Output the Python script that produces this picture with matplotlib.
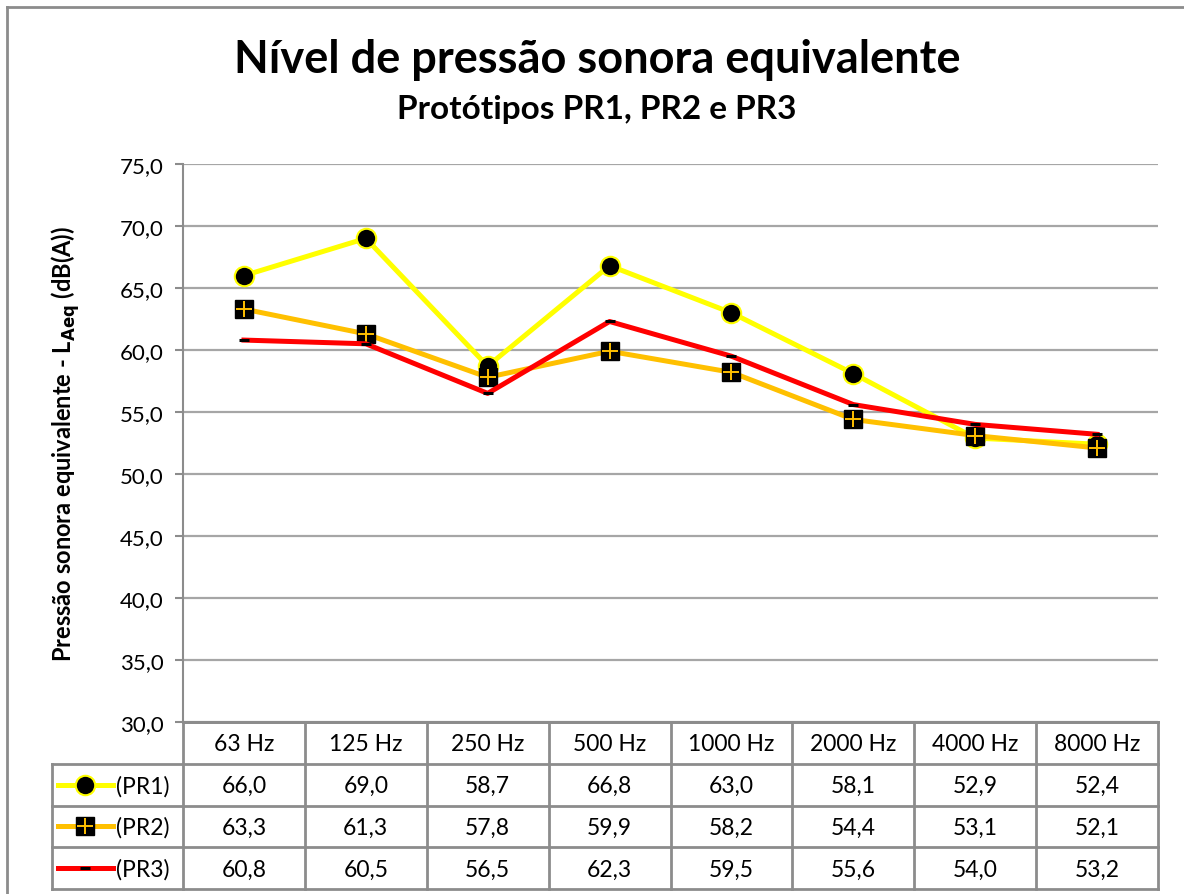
import matplotlib
matplotlib.use("Agg")
import matplotlib.pyplot as plt
from matplotlib.ticker import FuncFormatter

plt.rcParams['font.family'] = ['Lato', 'DejaVu Sans']

categories = ["63 Hz", "125 Hz", "250 Hz", "500 Hz", "1000 Hz", "2000 Hz", "4000 Hz", "8000 Hz"]
pr1 = [66.0, 69.0, 58.7, 66.8, 63.0, 58.1, 52.9, 52.4]
pr2 = [63.3, 61.3, 57.8, 59.9, 58.2, 54.4, 53.1, 52.1]
pr3 = [60.8, 60.5, 56.5, 62.3, 59.5, 55.6, 54.0, 53.2]
series_names = ["(PR1)", "(PR2)", "(PR3)"]
yticks = [30, 35, 40, 45, 50, 55, 60, 65, 70, 75]

W, H = 1184, 895
fig = plt.figure(figsize=(W / 100, H / 100), dpi=100)

def frac(x0, y0, x1, y1):
    return [x0 / W, 1 - y1 / H, (x1 - x0) / W, (y1 - y0) / H]

GRID = "#a6a6a6"
EDGE = "#8c8c8c"
YELLOW = "#ffff00"
ORANGE = "#ffc000"
RED = "#ff0000"

# outer chart border (left and top edges)
fig.add_artist(plt.Line2D([7 / W, 7 / W], [0, 1 - 8 / H], color=EDGE, lw=2, transform=fig.transFigure))
fig.add_artist(plt.Line2D([7 / W, 1], [1 - 8 / H, 1 - 8 / H], color=EDGE, lw=2, transform=fig.transFigure))

# plot area
x_left, x_right, y_top, y_bot = 183, 1158, 165, 723
ax = fig.add_axes(frac(x_left, y_top, x_right, y_bot))
xs = list(range(len(categories)))
ax.set_xlim(-0.5, len(categories) - 0.5)
ax.set_ylim(30, 75)
ax.set_yticks(yticks)
ax.yaxis.set_major_formatter(FuncFormatter(lambda v, p: f"{v:.1f}".replace(".", ",")))
ax.tick_params(axis='y', length=6, width=1.5, color=EDGE, labelsize=16, pad=8)
ax.set_xticks([])
for s in ("top", "right"):
    ax.spines[s].set_visible(False)
ax.spines["left"].set_color(EDGE)
ax.spines["left"].set_linewidth(1.5)
ax.spines["bottom"].set_color(EDGE)
ax.spines["bottom"].set_linewidth(2)
ax.grid(axis='y', color=GRID, lw=1.6)
ax.set_axisbelow(True)

def draw_pr1(a, x, y, lw=3.6, **kw):
    a.plot(x, y, color=YELLOW, lw=lw, marker='o', ms=14, mfc='black', mec=YELLOW, mew=1.5,
           solid_joinstyle='round', clip_on=False, zorder=3, **kw)

def draw_pr2(a, x, y, mx, my, lw=3.6):
    a.plot(x, y, color=ORANGE, lw=lw, solid_joinstyle='round', clip_on=False, zorder=4)
    a.plot(mx, my, ls='none', marker='s', ms=12.5, mfc='black', mec='black', clip_on=False, zorder=4)
    a.plot(mx, my, ls='none', marker='+', ms=12, mec=ORANGE, mew=1.4, clip_on=False, zorder=4)

def draw_pr3(a, x, y, mx, my, lw=3.6):
    a.plot(x, y, color=RED, lw=lw, solid_joinstyle='round', clip_on=False, zorder=5)
    a.plot(mx, my, ls='none', marker='_', ms=7, mec='black', mew=2.2, clip_on=False, zorder=5)

draw_pr1(ax, xs, pr1)
draw_pr2(ax, xs, pr2, xs, pr2)
draw_pr3(ax, xs, pr3, xs, pr3)

ax.set_ylabel(r"Pressão sonora equivalente - L$_{\mathbf{Aeq}}$ (dB(A))", fontsize=17, fontweight='bold')
ax.yaxis.set_label_coords(-0.104, 0.5)

# titles
fig.text(597 / W, 1 - 60 / H, "Nível de pressão sonora equivalente", ha='center', va='center',
         fontsize=32.5, fontweight='bold')
fig.text(597 / W, 1 - 110 / H, "Protótipos PR1, PR2 e PR3", ha='center', va='center',
         fontsize=24, fontweight='bold')

# data table below the plot area
t_left, t_bot = 52, 890
tax = fig.add_axes(frac(t_left, y_bot, x_right, t_bot))
cat_w = (x_right - x_left) / len(categories)
x_min = -0.5 - (x_left - t_left) / cat_w
tax.set_xlim(x_min, len(categories) - 0.5)
tax.set_ylim(4, 0)
tax.axis('off')

n = len(categories)
# horizontal rules
tax.plot([-0.5, n - 0.5], [0, 0], color=EDGE, lw=2, clip_on=False)
for r in (1, 2, 3, 4):
    tax.plot([x_min, n - 0.5], [r, r], color=EDGE, lw=2, clip_on=False)
# vertical rules
tax.plot([x_min, x_min], [1, 4], color=EDGE, lw=2, clip_on=False)
for c in range(n + 1):
    tax.plot([c - 0.5, c - 0.5], [0, 4], color=EDGE, lw=2, clip_on=False)

for c, lab in enumerate(categories):
    tax.text(c, 0.52, lab, ha='center', va='center', fontsize=16.5)
for r, vals in enumerate((pr1, pr2, pr3), start=1):
    for c, v in enumerate(vals):
        tax.text(c, r + 0.52, f"{v:.1f}".replace(".", ","), ha='center', va='center', fontsize=16.5)

# legend keys inside the table
key_x0 = x_min + (58 - t_left) / cat_w
key_x1 = x_min + (113 - t_left) / cat_w
key_xm = (key_x0 + key_x1) / 2
draw_pr1(tax, [key_x0, key_xm, key_x1], [1.5, 1.5, 1.5], markevery=[1])
draw_pr2(tax, [key_x0, key_x1], [2.5, 2.5], [key_xm], [2.5])
draw_pr3(tax, [key_x0, key_x1], [3.5, 3.5], [key_xm], [3.5])
label_x = x_min + (116 - t_left) / cat_w
for r, name in enumerate(series_names, start=1):
    tax.text(label_x, r + 0.52, name, ha='left', va='center', fontsize=16.5)

fig.savefig("out.png", dpi=100)
